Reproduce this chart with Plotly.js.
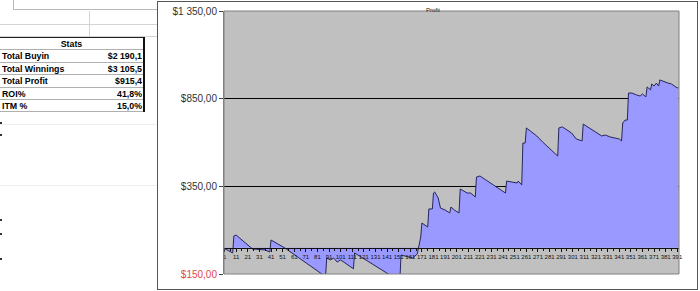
<!DOCTYPE html>
<html>
<head>
<meta charset="utf-8">
<script src="https://cdn.plot.ly/plotly-3.0.1.min.js"></script>
<style>
  html, body { margin:0; padding:0; width:700px; height:291px; overflow:hidden; background:#fff; }
  .abs { position:absolute; }
  .hl { position:absolute; height:0; border-top:1px solid #d4d4d4; }
  .vl { position:absolute; width:0; border-left:1px solid #d4d4d4; }
  .cell { position:absolute; font-family:"Liberation Sans", Arial, sans-serif; font-weight:bold; font-size:8.8px; color:#000; line-height:12px; white-space:nowrap; }
  #wrap { position:absolute; left:157px; top:1px; width:539px; height:287px; border:1px solid #555; background:#fff; }
  #chart { width:539px; height:287px; }
</style>
</head>
<body>
<!-- spreadsheet background -->
<div class="abs" style="left:13px;top:-1px;width:150px;height:10px;border-left:1px solid #b8b8b8;border-bottom:1px solid #b8b8b8;"></div>
<div class="hl" style="left:0;top:24px;width:157px;"></div>
<div class="hl" style="left:0;top:36px;width:157px;"></div>
<div class="vl" style="left:89px;top:11px;height:26px;"></div>
<div class="hl" style="left:0;top:124px;width:157px;border-color:#eee;"></div>
<div class="hl" style="left:0;top:185px;width:157px;border-color:#eee;"></div>
<div class="abs" style="left:0;top:122px;width:2px;height:2px;background:#333;"></div>
<div class="abs" style="left:0;top:134px;width:2px;height:2px;background:#333;"></div>
<div class="abs" style="left:0;top:219px;width:2px;height:2px;background:#333;"></div>
<div class="abs" style="left:0;top:233px;width:2px;height:2px;background:#333;"></div>
<div class="abs" style="left:0;top:258px;width:2px;height:2px;background:#333;"></div>
<div id="table"></div>
<div id="wrap"><div id="chart"></div></div>
<script>
// ---- stats table ----
const statLabels = ["Total Buyin", "Total Winnings", "Total Profit", "ROI%", "ITM %"];
const statValues = ["$2 190,1", "$3 105,5", "$915,4", "41,8%", "15,0%"];

// ---- chart data (tournament number vs cumulative profit) ----
const tourney = [1, 8, 9, 11, 25, 36, 40, 41, 53, 85, 88, 89, 92, 95, 98, 101, 112, 113, 142, 152,
  153, 163, 167, 168, 170, 171, 176, 177, 180, 181, 182, 185, 187, 191, 195, 196, 199, 203, 204, 210,
  213, 217, 218, 221, 243, 244, 250, 253, 254, 257, 258, 260, 261, 270, 275, 288, 289, 292, 300, 304,
  309, 310, 326, 329, 333, 337, 341, 343, 344, 346, 348, 349, 352, 356, 359, 361, 364, 365, 368, 369,
  371, 373, 375, 376, 380, 383, 386, 389, 391, 392];
const profit = [-5, -30, 67, 72, -7, -13, -25, 44, -2, -150, -165, -58, -70, -59, -82, -70, -120, -30, -150, -191,
  -42, -59, -36, -2, 61, 141, 118, 221, 221, 312, 318, 284, 226, 215, 198, 232, 215, 198, 335, 312,
  312, 289, 403, 409, 312, 380, 374, 369, 380, 358, 597, 597, 683, 637, 603, 523, 683, 689, 654, 620,
  609, 705, 637, 643, 632, 626, 620, 609, 711, 728, 728, 882, 882, 871, 865, 877, 860, 917, 900, 934,
  922, 939, 922, 957, 945, 939, 934, 922, 911, 915];

const xTickVals = [1, 11, 21, 31, 41, 51, 61, 71, 81, 91, 101, 111, 121, 131, 141, 151, 161, 171, 181, 191,
  201, 211, 221, 231, 241, 251, 261, 271, 281, 291, 301, 311, 321, 331, 341, 351, 361, 371, 381, 391];
const xTickText = xTickVals.map(String);
const yTickVals = [-150, 350, 850, 1350];
const yTickText = ["<span style='color:#e04848'>$150,00</span>", "$350,00", "$850,00", "$1 350,00"];

// build table
(function(){
  const t = document.getElementById('table');
  let h = '';
  const top = 37, rh = 12.4;
  h += '<div class="abs" style="left:0;top:' + top + 'px;width:145px;height:0;border-top:1px solid #222;"></div>';
  h += '<div class="abs" style="left:143px;top:' + top + 'px;width:0;height:' + (rh*6+1) + 'px;border-left:2px solid #111;"></div>';
  h += '<div class="cell" style="left:0;top:' + (top+1) + 'px;width:143px;text-align:center;">Stats</div>';
  for (let i = 0; i < statLabels.length; i++) {
    const y = top + rh*(i+1);
    h += '<div class="abs" style="left:0;top:' + y + 'px;width:143px;height:0;border-top:1px solid #b0b0b0;"></div>';
    h += '<div class="cell" style="left:2px;top:' + (y+1) + 'px;">' + statLabels[i] + '</div>';
    h += '<div class="cell" style="left:60px;top:' + (y+1) + 'px;width:82px;text-align:right;">' + statValues[i] + '</div>';
  }
  h += '<div class="abs" style="left:0;top:' + (top + rh*6) + 'px;width:143px;height:0;border-top:1px solid #b0b0b0;"></div>';
  t.innerHTML = h;
})();

const trace = {
  x: tourney, y: profit, type: 'scatter', mode: 'lines',
  fill: 'tozeroy', fillcolor: '#9999FF',
  line: { color: '#26265a', width: 1 },
  hoverinfo: 'skip'
};

const layout = {
  width: 539, height: 287,
  margin: { l: 66, r: 18, t: 9, b: 15, pad: 0 },
  paper_bgcolor: '#ffffff',
  plot_bgcolor: '#C0C0C0',
  showlegend: false,
  title: { text: 'Profit', font: { family: 'Liberation Sans, Arial, sans-serif', size: 6, color: '#222' },
           xref: 'container', yref: 'container', x: 0.51, y: 0.972, xanchor: 'center', yanchor: 'middle' },
  font: { family: 'Liberation Sans, Arial, sans-serif' },
  xaxis: {
    range: [0.5, 392.5], anchor: 'free', position: 0.1,
    tickmode: 'array', tickvals: xTickVals, ticktext: xTickText, tickangle: 0,
    ticks: 'outside', ticklen: 3, tickcolor: '#111', tickwidth: 1,
    showline: true, linecolor: '#111', linewidth: 1,
    showgrid: false, zeroline: false,
    tickfont: { size: 6, color: '#111' },
    minor: { tickmode: 'linear', tick0: 6, dtick: 10, ticks: 'outside', ticklen: 2, tickcolor: '#111' },
    fixedrange: true
  },
  yaxis: {
    range: [-150, 1350],
    tickmode: 'array', tickvals: yTickVals, ticktext: yTickText,
    ticks: 'outside', ticklen: 4, tickcolor: '#444',
    showgrid: true, gridcolor: '#000', gridwidth: 1, zeroline: false,
    showline: true, linecolor: '#808080', linewidth: 1,
    tickfont: { size: 10, color: '#333' },
    fixedrange: true
  },
  shapes: [
    { type: 'rect', xref: 'paper', yref: 'paper', x0: 0, x1: 1, y0: 0, y1: 1,
      line: { color: '#808080', width: 1 }, fillcolor: 'rgba(0,0,0,0)', layer: 'above' }
  ]
};

Plotly.newPlot('chart', [trace], layout, { displayModeBar: false, staticPlot: true });
</script>
</body>
</html>
